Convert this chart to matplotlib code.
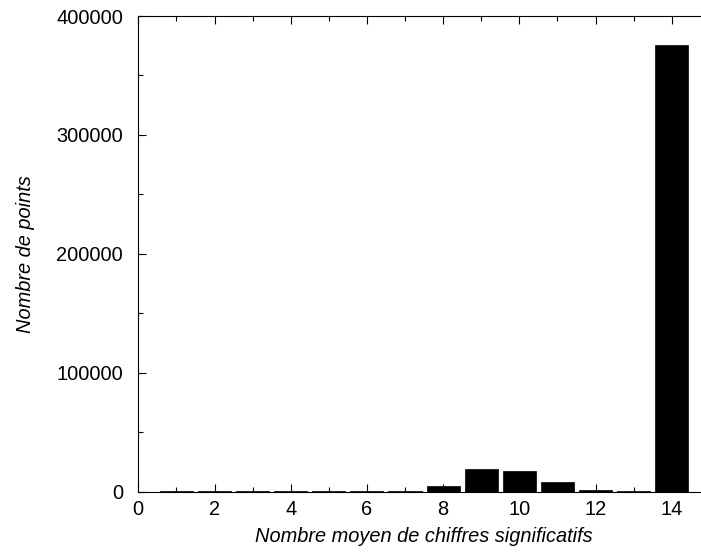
import numpy as np
import matplotlib.pyplot as plt
from matplotlib.ticker import MultipleLocator

plt.rcParams['font.family'] = ['Liberation Sans', 'DejaVu Sans']

# histogramme du nombre moyen de chiffres significatifs
chiffres = [0, 1, 2, 3, 4, 5, 6, 7, 8, 9, 10, 11, 12, 13, 14]
nb_points = [0, 20, 30, 40, 60, 100, 200, 600, 4900, 19200, 17500, 7700, 1300, 300, 375600]

fig = plt.figure(figsize=(7.01, 5.52), dpi=100)
ax = fig.add_axes([0.1973, 0.1096, 0.8153, 0.8614])

ax.bar(chiffres, nb_points, width=0.87, color='black', edgecolor='black', linewidth=0.5, zorder=3)

ax.set_xlim(0, 15)
ax.set_ylim(0, 400000)
ax.xaxis.set_major_locator(MultipleLocator(2))
ax.xaxis.set_minor_locator(MultipleLocator(1))
ax.yaxis.set_major_locator(MultipleLocator(100000))
ax.yaxis.set_minor_locator(MultipleLocator(50000))
ax.tick_params(which='both', direction='in', top=True, right=True, labelsize=14.4, width=0.8)
ax.tick_params(which='major', length=6)
ax.tick_params(axis='x', which='major', pad=6)
ax.tick_params(axis='y', which='major', pad=11)
ax.tick_params(which='minor', length=3.5)

for s in ax.spines.values():
    s.set_linewidth(0.8)

ax.set_xlabel('Nombre moyen de chiffres significatifs', fontsize=14.4, style='italic', labelpad=6)
ax.set_ylabel('Nombre de points', fontsize=14.4, style='italic', labelpad=15)

fig.savefig('out.png', dpi=100)
